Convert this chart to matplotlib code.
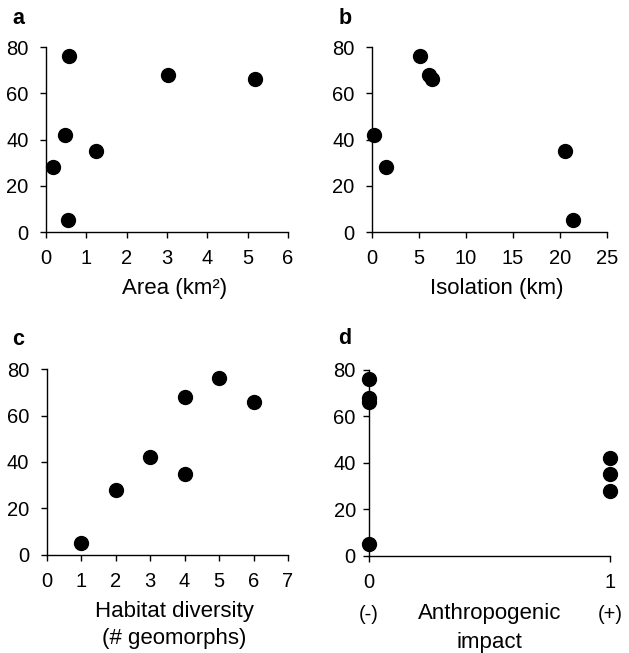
import matplotlib
matplotlib.use("Agg")
import matplotlib.pyplot as plt

plt.rcParams['font.family'] = ['Liberation Sans', 'DejaVu Sans']

# --- data (one entry per island) ---
richness = [76, 68, 66, 42, 35, 28, 5]
area_km2 = [0.57, 3.02, 5.17, 0.46, 1.25, 0.17, 0.55]
isolation_km = [5.15, 6.05, 6.4, 0.25, 20.6, 1.5, 21.45]
habitat_div = [5, 4, 6, 3, 4, 2, 1]
impact = [0, 0, 0, 1, 1, 1, 0]

y_ticks = [0, 20, 40, 60, 80]
panels = [
    # letter, x values, x ticks, x label, axes rect (figure fraction)
    ('a', area_km2, [0, 1, 2, 3, 4, 5, 6], 'Area (km²)', [0.0731, 0.6447, 0.3848, 0.2833]),
    ('b', isolation_km, [0, 5, 10, 15, 20, 25], 'Isolation (km)', [0.5910, 0.6447, 0.3736, 0.2833]),
    ('c', habitat_div, [0, 1, 2, 3, 4, 5, 6, 7], 'Habitat diversity\n(# geomorphs)', [0.0742, 0.1501, 0.3837, 0.2848]),
    ('d', impact, [0, 1], 'Anthropogenic\nimpact', [0.5866, 0.1490, 0.3832, 0.2844]),
]
letter_pos = {'a': (0.020, 0.972), 'b': (0.538, 0.972), 'c': (0.020, 0.480), 'd': (0.538, 0.482)}

fig = plt.figure(figsize=(6.29, 6.53), dpi=100)
fs = 14.5
label_fs = 16

for letter, xs, xticks, xlabel, rect in panels:
    ax = fig.add_axes(rect)
    ax.plot(xs, richness, 'o', color='black', markersize=10, clip_on=False, zorder=3)
    ax.set_xlim(xticks[0], xticks[-1])
    ax.set_ylim(0, 80)
    ax.set_yticks(y_ticks)
    ax.set_xticks(xticks)
    for side in ('top', 'right'):
        ax.spines[side].set_visible(False)
    for side in ('left', 'bottom'):
        ax.spines[side].set_linewidth(1.0)
    ax.tick_params(direction='out', length=4.5, width=1.0, labelsize=fs, pad=8)
    if letter == 'd':
        ax.set_xlabel(xlabel, fontsize=label_fs, linespacing=1.5)
        ax.set_xticklabels(['0\n(-)', '1\n(+)'])
        for lab in ax.get_xticklabels():
            lab.set_linespacing(1.85)
        ax.tick_params(axis='y', pad=5)
        ax.xaxis.set_label_coords(0.5, -0.255)
    else:
        ax.set_xlabel(xlabel, fontsize=label_fs, linespacing=1.35)
        ax.xaxis.set_label_coords(0.53, -0.25)
    fig.text(*letter_pos[letter], letter, fontsize=fs + 1, fontweight='bold',
             ha='left', va='center')

fig.savefig('out.png', dpi=100)
